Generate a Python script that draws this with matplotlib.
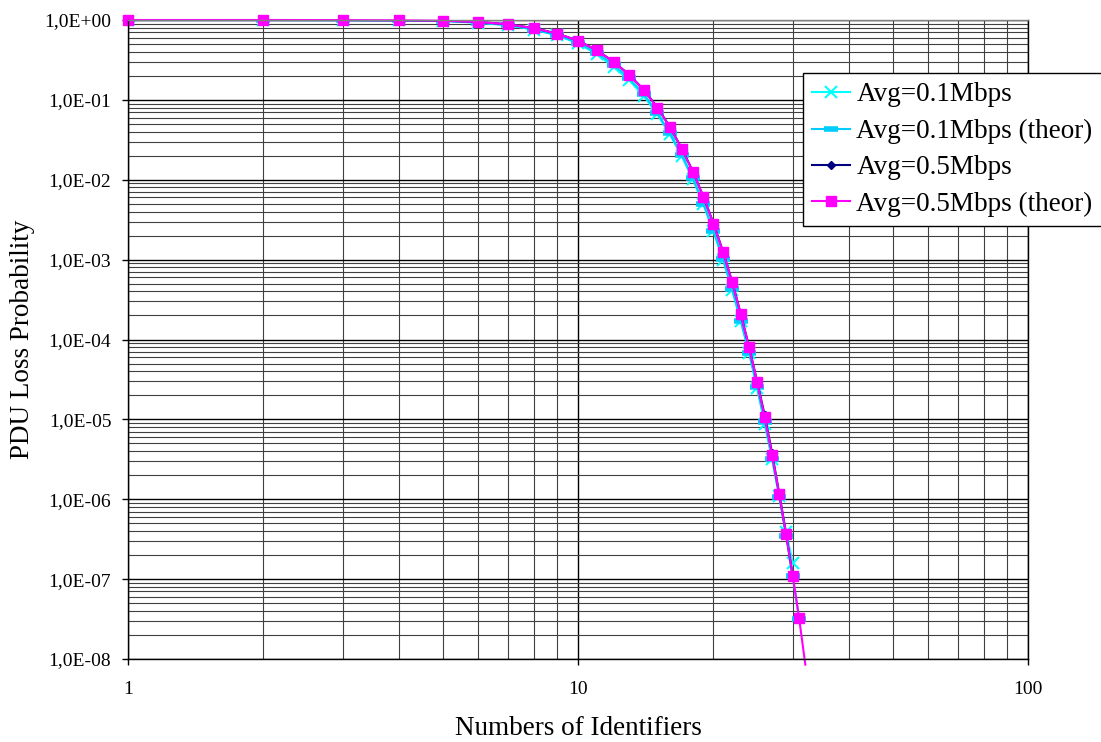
import numpy as np
import matplotlib
matplotlib.use('Agg')
import matplotlib.pyplot as plt
from matplotlib.ticker import FixedLocator, FuncFormatter, NullFormatter

plt.rcParams['font.family'] = ['Liberation Serif', 'DejaVu Serif']

# === data ===
ids = list(range(1, 33))

# Avg=0.1Mbps (simulation), ids 1..30
p01_sim = [1.0, 1.0, 0.995, 0.987, 0.972, 0.925, 0.86, 0.755, 0.64, 0.51,
           0.375, 0.26, 0.176, 0.112, 0.066, 0.037, 0.0198, 0.0101, 4.9e-3, 2.25e-3,
           1.0e-3, 4.2e-4, 1.7e-4, 6.8e-5, 2.5e-5, 8.7e-6, 3.2e-6, 1.1e-6, 3.9e-7, 1.6e-7]

# Avg=0.1Mbps (theor), ids 1..31
p01_theor = [1.0, 0.999, 0.996, 0.988, 0.975, 0.93, 0.865, 0.76, 0.645, 0.52,
             0.39, 0.275, 0.186, 0.118, 0.069, 0.038, 0.0205, 0.0105, 5.0e-3, 2.3e-3,
             1.02e-3, 4.3e-4, 1.72e-4, 6.8e-5, 2.55e-5, 9.3e-6, 3.2e-6, 1.08e-6, 3.5e-7, 1.08e-7,
             3.2e-8]

# Avg=0.5Mbps (simulation), ids 1..30
p05_sim = [1.0, 1.0, 0.998, 0.992, 0.98, 0.945, 0.885, 0.788, 0.675, 0.552,
           0.42, 0.3, 0.206, 0.134, 0.081, 0.046, 0.0248, 0.0127, 6.1e-3, 2.85e-3,
           1.26e-3, 5.3e-4, 2.1e-4, 8.1e-5, 3.0e-5, 1.12e-5, 3.75e-6, 1.18e-6, 3.7e-7, 1.1e-7]

# Avg=0.5Mbps (theor), ids 1..32
p05_theor = [1.0, 1.0, 0.998, 0.991, 0.98, 0.944, 0.884, 0.787, 0.674, 0.551,
             0.418, 0.299, 0.205, 0.133, 0.080, 0.0456, 0.0245, 0.0126, 6.08e-3, 2.82e-3,
             1.25e-3, 5.26e-4, 2.07e-4, 8.0e-5, 2.96e-5, 1.06e-5, 3.58e-6, 1.16e-6, 3.68e-7, 1.11e-7,
             3.25e-8, 8.5e-9]

labels = ['Avg=0.1Mbps', 'Avg=0.1Mbps (theor)', 'Avg=0.5Mbps', 'Avg=0.5Mbps (theor)']

W, H = 1101, 742
fig = plt.figure(figsize=(W / 100, H / 100), dpi=100)
ax = fig.add_axes([128 / W, (H - 659) / H, 900 / W, 639 / H])

ax.set_xscale('log')
ax.set_yscale('log')
ax.set_xlim(1, 100)
ax.set_ylim(1e-8, 1)

# grid
ax.grid(True, which='major', color='black', linewidth=1.0)
ax.grid(True, which='minor', color='#404040', linewidth=0.8)
ax.set_axisbelow(True)

ax.plot(ids[:30], p01_sim, color='#00FFFF', lw=1.5, marker='x', ms=9, mew=1.5, label=labels[0])
ax.plot(ids[:31], p01_theor, color='#00CCFF', lw=1.5, marker='_', ms=10, mew=4, label=labels[1])
ax.plot(ids[:30], p05_sim, color='#000080', lw=1.5, marker='D', ms=4.5, label=labels[2])
ax.plot(ids, p05_theor, color='#FF00FF', lw=1.5, marker='s', ms=7, markevery=slice(0, 31),
        clip_on=False, label=labels[3])

# ticks
ax.yaxis.set_major_locator(FixedLocator([10.0 ** k for k in range(-8, 1)]))
ax.yaxis.set_major_formatter(FuncFormatter(
    lambda v, p: '1,0E%s%02d' % ('+' if v >= 1 else '-', abs(int(round(np.log10(v)))))))
ax.yaxis.set_minor_locator(FixedLocator([m * 10.0 ** k for k in range(-8, 0) for m in range(2, 10)]))
ax.yaxis.set_minor_formatter(NullFormatter())
ax.xaxis.set_major_locator(FixedLocator([1, 10, 100]))
ax.xaxis.set_major_formatter(FuncFormatter(lambda v, p: '%d' % v))
ax.xaxis.set_minor_locator(FixedLocator([m * 10.0 ** k for k in range(0, 2) for m in range(2, 10)]))
ax.xaxis.set_minor_formatter(NullFormatter())

ax.tick_params(which='major', direction='out', length=4, width=1, labelsize=14, color='black')
ax.tick_params(axis='y', which='major', pad=8)
ax.tick_params(axis='x', which='major', pad=12)
ax.tick_params(which='minor', length=0)

for s in ax.spines.values():
    s.set_color('black')
    s.set_linewidth(1)
ax.spines['top'].set_color('#808080')

ax.set_xlabel('Numbers of Identifiers', fontsize=19.5, va='baseline')
ax.set_ylabel('PDU Loss Probability', fontsize=19.5, va='center')
ax.xaxis.set_label_coords(0.5, -(735 - 659) / 639, transform=ax.transAxes)
ax.yaxis.set_label_coords(-(128 - 23) / 900, 0.5, transform=ax.transAxes)

leg = ax.legend(loc='upper left', bbox_to_anchor=(803 / W, 1 - 73 / H), bbox_transform=fig.transFigure,
                fontsize=19.5, frameon=True, fancybox=False, edgecolor='black', framealpha=1,
                handlelength=1.4, handletextpad=0.22, borderpad=0.35, labelspacing=0.42,
                borderaxespad=0)
leg.get_frame().set_linewidth(1)

fig.savefig('out.png', dpi=100)
